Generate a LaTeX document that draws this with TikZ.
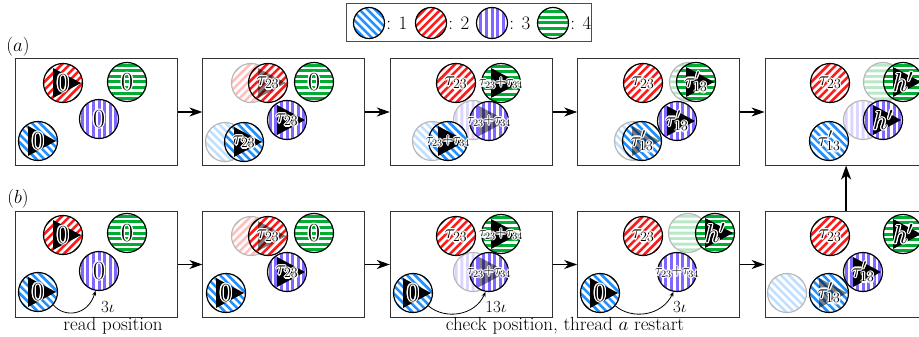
\RequirePackage{fix-cm}
\documentclass[tikz,border=0pt]{standalone}
\usetikzlibrary{calc,arrows.meta}
\definecolor{cBlue}{RGB}{30,144,255}
\definecolor{cRed}{RGB}{255,25,25}
\definecolor{cPurple}{RGB}{128,104,255}
\definecolor{cGreen}{RGB}{0,172,50}
\newcommand\fbig{\fontsize{26}{28}\selectfont}
\newcommand\fmid{\fontsize{20}{22}\selectfont}
\newcommand\fsm{\fontsize{14}{16}\selectfont}
\newcommand\ftxt{\fontsize{19}{21}\selectfont}
\newcommand\fio{\fontsize{17}{19}\selectfont}
\tikzset{
 ball/.style={circle, draw=black, line width=1.2pt, minimum size=39pt, inner sep=0pt},
 bS/.style={ball, fill=cBlue, path picture={\foreach \k in {-5,...,5} \draw[white,line width=2.7pt] ($(path picture bounding box.center)+(\k*7.9-30,-30)$) -- ++(60,60);}},
 rS/.style={ball, fill=cRed, path picture={\foreach \k in {-5,...,5} \draw[white,line width=2.7pt] ($(path picture bounding box.center)+(\k*7.9-30,30)$) -- ++(60,-60);}},
 pS/.style={ball, fill=cPurple, path picture={\foreach \k in {-4,...,4} \draw[white,line width=2.6pt] ($(path picture bounding box.center)+(\k*5.6+2.8,-25)$) -- ++(0,50);}},
 gS/.style={ball, fill=cGreen, path picture={\foreach \k in {-4,...,4} \draw[white,line width=2.6pt] ($(path picture bounding box.center)+(-25,\k*5.6+2.8)$) -- ++(50,0);}},
 small/.style={minimum size=31pt},
 frame/.style={draw=black!80, line width=1pt, minimum width=162pt, minimum height=106pt, inner sep=0pt},
 arr/.style={-{Stealth[length=13pt,width=9pt,inset=4pt]}, line width=1.4pt},
 varr/.style={-{Stealth[length=14pt,width=10pt,inset=4pt]}, line width=1.8pt},
 carr/.style={-{Stealth[length=5pt,width=4pt]}, line width=0.8pt},
}
\newcommand\halolbl[3]{%
  \foreach \aa in {0,30,...,330}{\node[text=white,font=#2,inner sep=0pt] at ($(#1)+(\aa:1.2pt)$) {#3};}
  \node[font=#2,inner sep=0pt] at (#1) {#3};}
\newcommand\bl[7]{%
  \node[#2] (#1) at (#3,#4) {};
  \ifx\relax#5\relax\else \fill[black,opacity=#5] ($(#1)+(-10,-15)$) -- ($(#1)+(18,0)$) -- ($(#1)+(-10,15)$) -- cycle;\fi
  \halolbl{#1}{#6}{#7}}
\newcommand\gh[4]{\begin{scope}[transparency group, opacity=0.28]\node[#2] (#1) at (#3,#4) {};\end{scope}}
\newcommand\tz{$\tau_{23}$}
\newcommand\tzz{$\tau_{23}{+}\tau_{34}$}
\newcommand\tp{$\tau'_{13}$}
\newcommand\hp{$h'$}
\begin{document}
\begin{tikzpicture}[x=1pt,y=-1pt]
\useasboundingbox (0,0) rectangle (919,337);
% legend
\node[draw=black!70, line width=1pt, minimum width=245pt, minimum height=38pt, inner sep=0pt] (leg) at (468.5,23) {};
\node[bS,small] (l1) at (369,23) {};
\node[rS,small] (l2) at (431,23) {};
\node[pS,small] (l3) at (492,23) {};
\node[gS,small] (l4) at (553,23) {};
\foreach \n/\t in {l1/1,l2/2,l3/3,l4/4} \node[anchor=west,font=\ftxt,inner sep=1pt] at (\n.east) {: \t};
% row labels
\node[font=\ftxt] (la) at (18,47) {$(a)$};
\node[font=\ftxt] (lb) at (18,199) {$(b)$};
% frames
\foreach \i/\x in {1/96.5,2/283.9,3/471.3,4/658.7,5/846.1}{
  \node[frame] (a\i) at (\x,112) {};
  \node[frame] (b\i) at (\x,264.5) {};
}
\foreach \i/\j in {1/2,2/3,3/4,4/5}{
  \draw[arr] (a\i.east) -- (a\j.west);
  \draw[arr] (b\i.east) -- (b\j.west);
}
\draw[varr] (b5.north) -- (a5.south);
% ---- row a ----
\bl{a1r}{rS}{63}{83}{1}{\fbig}{0}
\bl{a1g}{gS}{127}{82}{}{\fbig}{0}
\bl{a1p}{pS}{99}{119}{}{\fbig}{0}
\bl{a1b}{bS}{38}{141}{1}{\fbig}{0}
%
\gh{a2rg}{rS}{251}{83}
\gh{a2bg}{bS}{225}{142}
\bl{a2r}{rS}{268}{83}{0.5}{\fmid}{\tz}
\bl{a2g}{gS}{314}{82}{}{\fbig}{0}
\bl{a2p}{pS}{287}{120}{1}{\fmid}{\tz}
\bl{a2b}{bS}{244}{142}{1}{\fmid}{\tz}
%
\gh{a3pg}{pS}{473}{120}
\gh{a3bg}{bS}{432}{141}
\bl{a3r}{rS}{456}{83}{}{\fmid}{\tz}
\bl{a3g}{gS}{501}{83}{1}{\fsm}{\tzz}
\bl{a3p}{pS}{489}{121}{0.5}{\fsm}{\tzz}
\bl{a3b}{bS}{448}{141}{1}{\fsm}{\tzz}
%
\gh{a4gg}{gS}{689}{82}
\gh{a4bg}{bS}{634}{141}
\bl{a4r}{rS}{643}{83}{}{\fmid}{\tz}
\bl{a4g}{gS}{696}{82}{1}{\fmid}{\tp}
\bl{a4b}{bS}{642}{141}{0.5}{\fmid}{\tp}
\bl{a4p}{pS}{677}{121}{1}{\fmid}{\tp}
%
\gh{a5gg}{gS}{883}{82}
\gh{a5pg}{pS}{863}{120}
\bl{a5r}{rS}{830}{83}{}{\fmid}{\tz}
\bl{a5g}{gS}{903}{82}{1}{\fbig}{\hp}
\bl{a5p}{pS}{883}{120}{1}{\fbig}{\hp}
\bl{a5b}{bS}{829}{141}{}{\fmid}{\tp}
% ---- row b ----
\bl{b1r}{rS}{63}{235}{1}{\fbig}{0}
\bl{b1g}{gS}{127}{233}{}{\fbig}{0}
\bl{b1p}{pS}{99}{271}{}{\fbig}{0}
\bl{b1b}{bS}{38}{292}{1}{\fbig}{0}
\draw[carr] (b1b.-40) .. controls (64,318) and (88,316) .. (b1p.-100);
\node[font=\fio] (t1) at (108,307) {$3\iota$};
\node[font=\ftxt] (r1) at (113,326) {read position};
%
\gh{b2rg}{rS}{251}{236}
\bl{b2r}{rS}{268}{236}{0.5}{\fmid}{\tz}
\bl{b2g}{gS}{314}{233}{}{\fbig}{0}
\bl{b2p}{pS}{287}{272}{1}{\fmid}{\tz}
\bl{b2b}{bS}{226}{293}{1}{\fbig}{0}
%
\gh{b3pg}{pS}{473}{272}
\bl{b3r}{rS}{456}{236}{}{\fmid}{\tz}
\bl{b3g}{gS}{501}{234}{1}{\fsm}{\tzz}
\bl{b3p}{pS}{489}{272}{0.5}{\fsm}{\tzz}
\bl{b3b}{bS}{413}{293}{1}{\fbig}{0}
\draw[carr] (b3b.-40) .. controls (445,320) and (475,316) .. (b3p.-100);
\node[font=\fio] (t3) at (496,307) {$13\iota$};
\node[font=\ftxt] (r3) at (565,326) {check position, thread $a$ restart};
%
\gh{b4gg}{gS}{688}{233}
\bl{b4r}{rS}{643}{236}{}{\fmid}{\tz}
\bl{b4g}{gS}{715}{233}{1}{\fbig}{\hp}
\bl{b4p}{pS}{677}{272}{}{\fsm}{\tzz}
\bl{b4b}{bS}{600}{293}{1}{\fbig}{0}
\draw[carr] (b4b.-40) .. controls (632,320) and (662,316) .. (b4p.-100);
\node[font=\fio] (t4) at (680,307) {$3\iota$};
%
\gh{b5bg}{bS}{787}{293}
\bl{b5r}{rS}{830}{236}{}{\fmid}{\tz}
\bl{b5g}{gS}{903}{234}{1}{\fbig}{\hp}
\bl{b5b}{bS}{829}{293}{0.5}{\fmid}{\tp}
\bl{b5p}{pS}{863}{272}{1}{\fmid}{\tp}
\end{tikzpicture}
\end{document}
